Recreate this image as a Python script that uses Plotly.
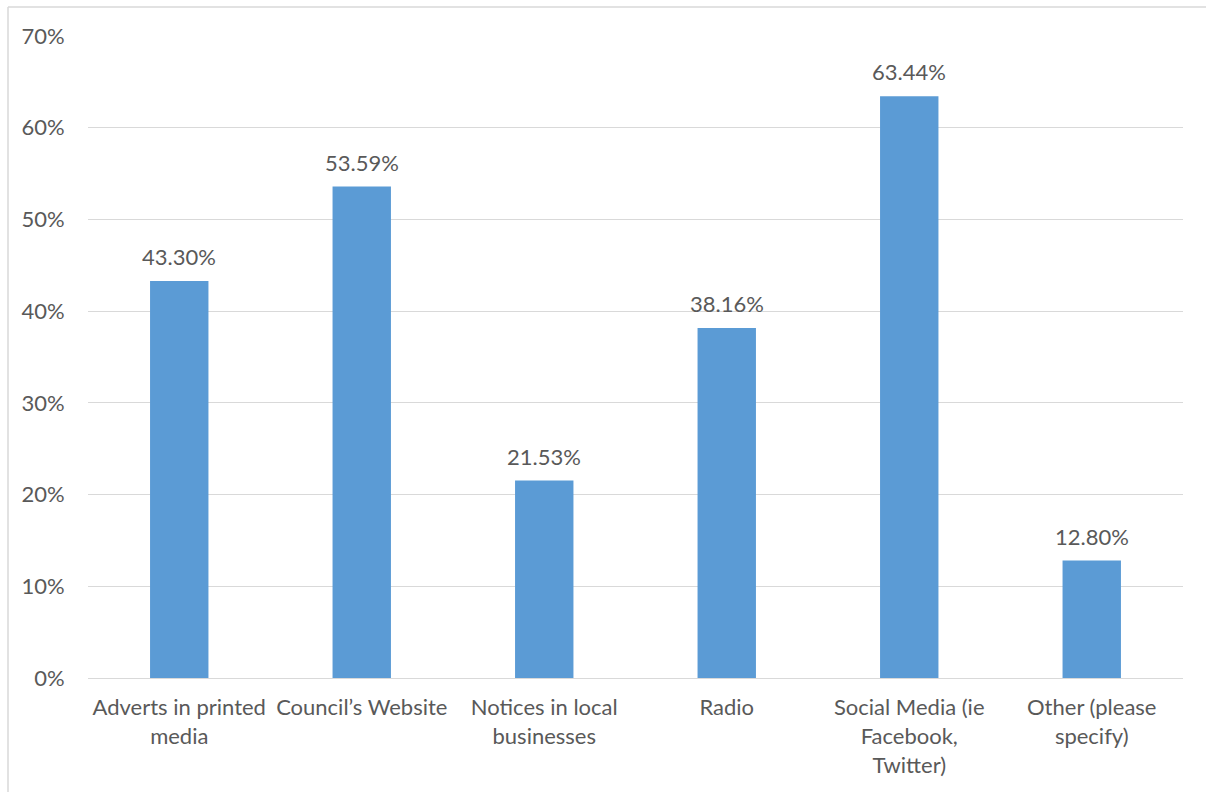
import plotly.graph_objects as go

categories = [
    "Adverts in printed<br>media",
    "Council’s Website",
    "Notices in local<br>businesses",
    "Radio",
    "Social Media (ie<br>Facebook,<br>Twitter)",
    "Other (please<br>specify)",
]
values = [43.30, 53.59, 21.53, 38.16, 63.44, 12.80]
labels = [f"{v:.2f}%" for v in values]
tick_vals = [0, 10, 20, 30, 40, 50, 60, 70]
tick_text = [f"{t}%" for t in tick_vals]

font_family = "Lato, Open Sans, sans-serif"
text_color = "#595959"
FS = 22

fig = go.Figure(
    go.Bar(
        x=categories,
        y=values,
        marker=dict(color="#5B9BD5", line=dict(width=0)),
        width=0.32,
        hoverinfo="skip",
    )
)

for c, v, lab in zip(categories, values, labels):
    fig.add_annotation(
        x=c, y=v, text=lab, showarrow=False,
        yanchor="bottom", yshift=9,
        font=dict(size=FS, color=text_color, family=font_family),
    )

W, H = 1206, 792
l, r, t, b = 88, 23, 36, 114
pw, ph = W - l - r, H - t - b
px_left = (8 - l) / pw
py_top = 1 + (t - 7) / ph

fig.update_layout(
    width=W,
    height=H,
    margin=dict(l=l, r=r, t=t, b=b),
    paper_bgcolor="white",
    plot_bgcolor="white",
    showlegend=False,
    font=dict(family=font_family, size=FS, color=text_color),
    xaxis=dict(
        showgrid=False,
        showline=False,
        ticks="outside",
        ticklen=10,
        tickcolor="rgba(0,0,0,0)",
        tickfont=dict(size=FS, color=text_color),
    ),
    yaxis=dict(
        range=[0, 70],
        tickvals=tick_vals,
        ticktext=tick_text,
        showgrid=True,
        gridcolor="#D9D9D9",
        gridwidth=1.3,
        zeroline=True,
        zerolinecolor="#D9D9D9",
        zerolinewidth=1.3,
        showline=False,
        ticks="outside",
        ticklen=18,
        tickcolor="rgba(0,0,0,0)",
        tickfont=dict(size=FS, color=text_color),
    ),
    shapes=[
        dict(type="line", xref="paper", yref="paper",
             x0=px_left, x1=px_left, y0=py_top, y1=-0.5,
             line=dict(color="#D9D9D9", width=1.5)),
        dict(type="line", xref="paper", yref="paper",
             x0=px_left, x1=(W - l) / pw + 0.001, y0=py_top, y1=py_top,
             line=dict(color="#D9D9D9", width=1.5)),
    ],
)

fig.write_html(
    "out.html",
    config={"displayModeBar": False},
    post_script="document.documentElement.style.overflow='hidden';"
                "document.body.style.overflow='hidden';"
                "document.body.style.margin='0';",
)
